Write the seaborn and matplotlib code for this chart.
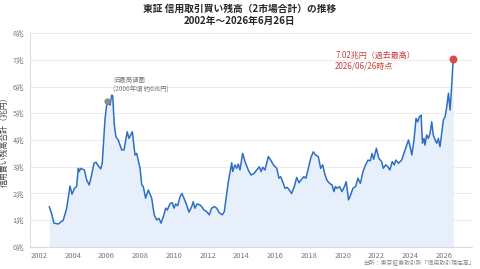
import numpy as np
import pandas as pd
import matplotlib
matplotlib.use('Agg')
import matplotlib.pyplot as plt
import seaborn as sns

# decimal year / balance in trillion yen
years = [2002.61, 2002.75, 2002.89, 2003.15, 2003.34, 2003.44, 2003.64, 2003.84, 2003.96,
         2004.10, 2004.23, 2004.33, 2004.39, 2004.47, 2004.69, 2004.83, 2004.98,
         2005.12, 2005.26, 2005.38, 2005.52, 2005.66, 2005.75, 2005.91,
         2006.01, 2006.15, 2006.21, 2006.31, 2006.37, 2006.46, 2006.56, 2006.70, 2006.90,
         2007.04, 2007.23, 2007.33, 2007.53, 2007.69, 2007.79, 2007.99,
         2008.09, 2008.18, 2008.32, 2008.48, 2008.68, 2008.83, 2008.97,
         2009.11, 2009.23, 2009.37, 2009.51, 2009.60, 2009.76, 2009.90,
         2010.00, 2010.10, 2010.22, 2010.36, 2010.47, 2010.62, 2010.75, 2010.89,
         2011.05, 2011.14, 2011.24, 2011.38, 2011.54, 2011.64, 2011.78, 2011.94,
         2012.09, 2012.23, 2012.39, 2012.53, 2012.68, 2012.86, 2012.98,
         2013.22, 2013.42, 2013.48, 2013.61, 2013.71, 2013.81, 2013.91,
         2014.07, 2014.21, 2014.40, 2014.56, 2014.75, 2014.90,
         2015.06, 2015.16, 2015.26, 2015.39, 2015.59, 2015.73, 2015.89,
         2016.09, 2016.22, 2016.32, 2016.44, 2016.58, 2016.71, 2016.83, 2016.97,
         2017.13, 2017.27, 2017.41, 2017.56, 2017.70, 2017.82, 2017.96,
         2018.10, 2018.25, 2018.39, 2018.55, 2018.69, 2018.81, 2018.95,
         2019.06, 2019.21, 2019.36, 2019.48, 2019.56, 2019.67, 2019.81, 2019.95,
         2020.10, 2020.20, 2020.34, 2020.46, 2020.60, 2020.76, 2020.90,
         2021.04, 2021.20, 2021.35, 2021.50, 2021.63, 2021.73, 2021.83, 2021.99,
         2022.13, 2022.30, 2022.40, 2022.54, 2022.67, 2022.79, 2022.93,
         2023.05, 2023.14, 2023.30, 2023.49, 2023.69, 2023.89, 2023.99,
         2024.09, 2024.22, 2024.34, 2024.44, 2024.54, 2024.64, 2024.72, 2024.81, 2024.87, 2024.97,
         2025.07, 2025.17, 2025.27, 2025.36, 2025.47, 2025.57, 2025.66, 2025.76, 2025.86, 2025.96,
         2026.06, 2026.16, 2026.26, 2026.36, 2026.46, 2026.52, 2026.55]
balance = [1.51, 1.25, 0.89, 0.86, 0.95, 1.00, 1.44, 2.28, 1.97,
           2.19, 2.26, 2.94, 2.82, 2.94, 2.88, 2.50, 2.32,
           2.69, 3.13, 3.17, 3.03, 2.92, 3.13, 4.75,
           5.31, 5.37, 5.31, 5.68, 5.66, 4.60, 4.12, 4.00, 3.63,
           3.63, 4.31, 4.06, 4.31, 3.44, 3.50, 2.94,
           2.32, 2.26, 1.82, 2.13, 1.82, 1.20, 1.01,
           1.07, 0.89, 1.13, 1.45, 1.38, 1.61, 1.66,
           1.45, 1.61, 1.54, 1.88, 2.00, 1.78, 1.57, 1.30,
           1.51, 1.69, 1.45, 1.61, 1.57, 1.51, 1.38, 1.32,
           1.20, 1.45, 1.51, 1.45, 1.28, 1.20, 1.32,
           2.44, 3.15, 2.82, 3.07, 2.94, 3.10, 2.88,
           3.50, 3.19, 2.88, 2.69, 2.75, 2.88,
           3.00, 2.82, 2.98, 2.88, 3.38, 3.25, 3.07,
           2.94, 2.57, 2.63, 2.44, 2.19, 2.23, 2.13, 2.00,
           2.26, 2.60, 2.40, 2.53, 2.63, 2.57, 2.94,
           3.32, 3.56, 3.44, 3.38, 2.94, 3.07, 2.69,
           2.50, 2.38, 2.32, 2.07, 2.26, 2.19, 2.26, 2.07,
           2.26, 2.44, 1.76, 1.94, 2.19, 2.26, 2.57,
           2.38, 2.82, 3.07, 3.25, 3.22, 3.50, 3.28, 3.69,
           3.32, 3.19, 2.94, 3.07, 3.00, 2.88, 3.19,
           3.07, 3.25, 3.13, 3.25, 3.63, 4.00, 3.75,
           3.44, 4.00, 4.81, 4.68, 4.87, 4.93, 3.88, 4.06, 3.81, 4.19,
           4.06, 4.25, 4.68, 4.19, 4.00, 3.88, 4.06, 3.75, 4.25, 4.75,
           4.87, 5.24, 5.75, 5.12, 6.12, 6.80, 7.02]

old_peak = (2006.03, 5.45)
xticks = list(range(2002, 2027, 2))
yticks = list(range(0, 9))

df = pd.DataFrame({'year': years, 'balance': balance})

sns.set_style('white')
plt.rcParams['font.family'] = ['Noto Sans CJK JP', 'DejaVu Sans']

fig = plt.figure(figsize=(4.8, 2.69), dpi=100)
ax = fig.add_axes([0.0625, 0.082, 0.921, 0.795])

line_color = '#2f6fc2'
ax.fill_between(df['year'], df['balance'], 0, color='#e7f0fa', lw=0)
sns.lineplot(data=df, x='year', y='balance', ax=ax, color=line_color, lw=1.1)

ax.scatter([df['year'].iloc[-1]], [df['balance'].iloc[-1]], s=22, color='#d94a4a', zorder=5)
ax.scatter([old_peak[0]], [old_peak[1]], s=12, color='#8a8a8a', zorder=5)

ax.text(2019.55, 7.35, '7.02兆円（過去最高）\n2026/06/26時点', color='#c9403c',
        fontsize=5.8, ha='left', va='top', linespacing=1.25)
ax.text(2006.4, 6.38, '旧最高値圏\n(2006年頃 約6兆円)', color='#7a7a7a',
        fontsize=4.6, ha='left', va='top', linespacing=1.2)

ax.set_xlim(2001.47, 2027.66)
ax.set_ylim(0, 8)
ax.set_xticks(xticks)
ax.set_yticks(yticks)
ax.set_yticklabels([f'{v}兆' for v in yticks])
ax.tick_params(axis='both', labelsize=5.4, colors='#888888', labelcolor='#777777',
               length=2, width=0.5, pad=2)
ax.grid(axis='y', color='#e8e8e8', lw=0.6)
ax.set_axisbelow(True)
for s in ['top', 'right']:
    ax.spines[s].set_visible(False)
ax.spines['left'].set_color('#cccccc')
ax.spines['bottom'].set_color('#cccccc')
ax.spines['left'].set_linewidth(0.5)
ax.spines['bottom'].set_linewidth(0.5)
ax.set_xlabel('')
ax.set_ylabel('信用買い残高合計（兆円）', fontsize=5.7, color='#444444', labelpad=3)

fig.text(0.5, 0.985, '東証 信用取引買い残高（2市場合計）の推移\n2002年～2026年6月26日',
         ha='center', va='top', fontsize=7, fontweight='bold', linespacing=1.3)
fig.text(0.99, 0.012, '出所：東京証券取引所「信用取引現在高」', ha='right', va='bottom',
         fontsize=4.2, color='#888888')

fig.savefig('out.png', dpi=100)
